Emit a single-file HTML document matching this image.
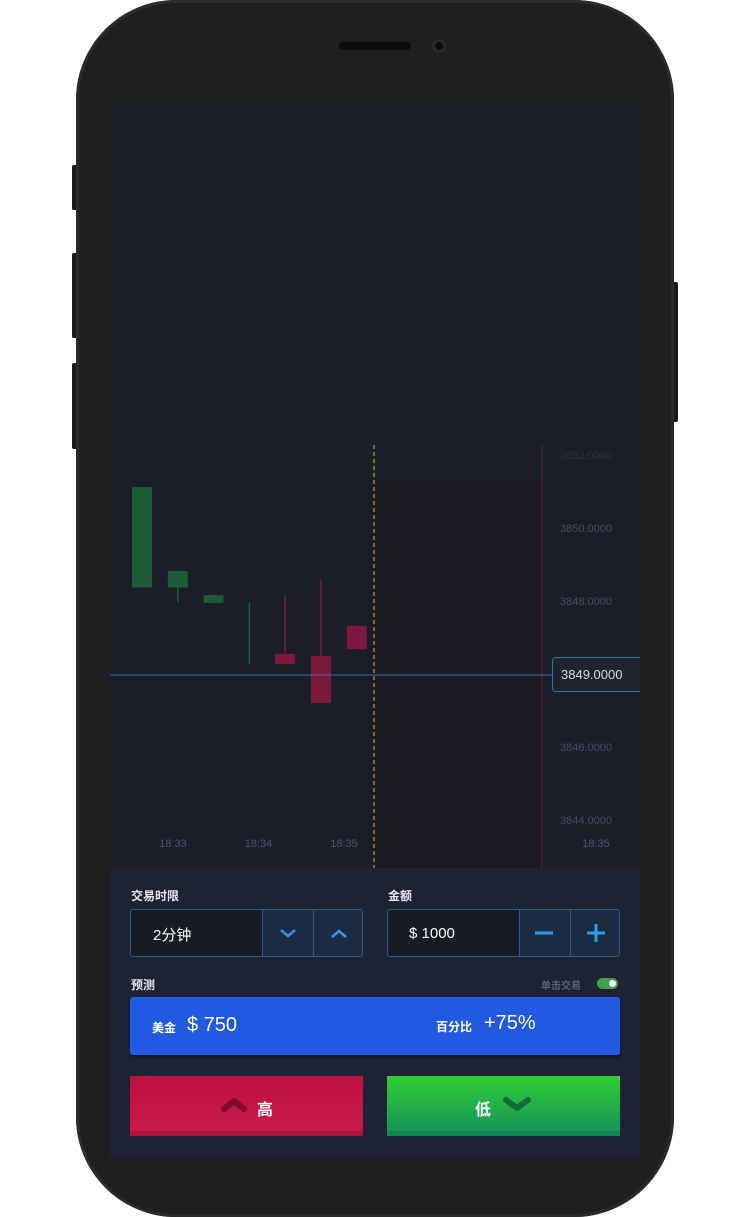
<!DOCTYPE html>
<html><head><meta charset="utf-8"><style>
body{margin:0;width:746px;height:1217px;background:#fff;position:relative;overflow:hidden;font-family:"Liberation Sans","Noto Sans CJK SC",sans-serif}
.abs{position:absolute}
.lbl{color:#e6e8ee;font-size:12px;font-weight:bold}
.box{position:absolute;border:1px solid #2a5a8c;border-radius:3px;background:#171b24;box-sizing:border-box;overflow:hidden}
.seg{position:absolute;top:0;bottom:0;width:50px;background:#1d2b42;border-left:1px solid #2a5a8c}
</style></head><body>
<div class="abs" style="left:72px;top:165px;width:6px;height:45px;background:#1a1a1a;border-radius:2px"></div>
<div class="abs" style="left:72px;top:253px;width:6px;height:85px;background:#1a1a1a;border-radius:2px"></div>
<div class="abs" style="left:72px;top:363px;width:6px;height:86px;background:#1a1a1a;border-radius:2px"></div>
<div class="abs" style="left:670px;top:282px;width:8px;height:140px;background:#1a1a1a;border-radius:2px"></div>
<div class="abs" style="left:76px;top:0;width:598px;height:1217px;background:#1f1f1f;border-radius:100px;box-shadow:inset 0 0 0 3px #2b2b2b"></div>
<div class="abs" style="left:339px;top:42px;width:72px;height:8px;background:#0d0d0d;border-radius:4px"></div>
<div class="abs" style="left:432px;top:39px;width:14px;height:14px;background:#0d0d0d;border-radius:50%;box-shadow:inset 0 0 0 3px #2a2a2a"></div>
<div class="abs" style="left:110px;top:100px;width:530px;height:1058px;background:#1a1e28;overflow:hidden">
<svg id="chart" width="530" height="768" style="position:absolute;left:0;top:0;font-family:'Liberation Sans',sans-serif"></svg>
<div class="abs" style="left:0;top:768px;width:530px;height:290px;background:#1d2333">
<div class="abs lbl" style="left:21px;top:19px">交易时限</div>
<div class="abs lbl" style="left:278px;top:19px">金额</div>
<div class="box" style="left:20px;top:41px;width:233px;height:48px">
<div class="abs" style="left:22px;top:14px;color:#fff;font-size:15px">2分钟</div>
<div class="seg" style="left:131px"><svg width="50" height="46"><path d="M18 20l7 6 7-6" stroke="#2a9cf0" stroke-width="2.5" fill="none"/></svg></div>
<div class="seg" style="left:182px"><svg width="50" height="46"><path d="M18 27l7-6 7 6" stroke="#2a9cf0" stroke-width="2.5" fill="none"/></svg></div>
</div>
<div class="box" style="left:277px;top:41px;width:233px;height:48px">
<div class="abs" style="left:21px;top:15px;color:#fff;font-size:15px">$ 1000</div>
<div class="seg" style="left:131px"><svg width="50" height="46"><path d="M15 23h18" stroke="#2a9cf0" stroke-width="3"/></svg></div>
<div class="seg" style="left:182px"><svg width="50" height="46"><path d="M16 23h18M25 14v18" stroke="#2a9cf0" stroke-width="3"/></svg></div>
</div>
<div class="abs lbl" style="left:21px;top:108px">预测</div>
<div class="abs" style="left:431px;top:109px;color:#5b6272;font-size:10px;font-weight:bold">单击交易</div>
<div class="abs" style="left:487px;top:110px;width:21px;height:11px;background:#3aa447;border-radius:6px"><div class="abs" style="right:2px;top:2px;width:7px;height:7px;background:#fff;border-radius:50%"></div></div>
<div class="abs" style="left:20px;top:129px;width:490px;height:58px;background:#2159e3;border-radius:3px;box-shadow:0 2px 3px rgba(0,0,0,.4)">
<div class="abs" style="left:22px;top:22px;color:#fff;font-size:12px;font-weight:bold">美金</div>
<div class="abs" style="left:57px;top:17px;color:#fff;font-size:20px">$ 750</div>
<div class="abs" style="left:306px;top:21px;color:#fff;font-size:12px;font-weight:bold">百分比</div>
<div class="abs" style="left:354px;top:15px;color:#fff;font-size:20px">+75%</div>
</div>
<div class="abs" style="left:20px;top:208px;width:233px;height:60px;background:linear-gradient(#bd1141,#c8194b);border-bottom:5px solid #a8173f;box-sizing:border-box">
<svg class="abs" style="left:90px;top:20px" width="28" height="16"><path d="M4 13l10-8 10 8" stroke="#7d0e2e" stroke-width="6" fill="none" stroke-linecap="round" stroke-linejoin="round"/></svg>
<div class="abs" style="left:127px;top:20px;color:#fff;font-size:16px;font-weight:bold">高</div>
</div>
<div class="abs" style="left:277px;top:208px;width:233px;height:60px;background:linear-gradient(#2fcf33,#17955a);border-bottom:5px solid #15834f;box-sizing:border-box">
<div class="abs" style="left:88px;top:20px;color:#fff;font-size:16px;font-weight:bold">低</div>
<svg class="abs" style="left:115px;top:20px" width="30" height="16"><path d="M4 4l11 8 11-8" stroke="#146b34" stroke-width="6" fill="none" stroke-linecap="round" stroke-linejoin="round"/></svg>
</div>
</div>
</div>
<script>
const opens=[3848.37,3848.37,3847.95,3846.30,3846.55,3846.49,3847.32];
const closes=[3851.12,3848.82,3848.16,3846.30,3846.27,3845.21,3846.68];
const highs=[3851.12,3848.82,3848.16,3847.95,3848.16,3848.58,3847.32];
const lows=[3848.37,3847.97,3847.95,3846.27,3846.27,3845.21,3846.68];
const priceTickLabels=["3852.0000","3850.0000","3848.0000","","3846.0000","3844.0000"];
const timeLabels=["18:33","18:34","18:35"];
const currentPrice=3849.0000;
const NS="http://www.w3.org/2000/svg";
const svg=document.getElementById('chart');
function yv(v){return 355+(3852-v)*36.5;}
function xi(i){return 32+i*35.8;}
function xt(i){return 63+i*85.5;}
function yt(i){return 355+i*73;}
function mk(t,a,p){const e=document.createElementNS(NS,t);for(const k in a)e.setAttribute(k,a[k]);(p||svg).appendChild(e);return e;}
for(let i=0;i<timeLabels.length;i++){const g=mk('line',{x1:xt(i),x2:xt(i),y1:340,y2:720,stroke:'#1c212b','stroke-width':1});

}
const z=mk('rect',{x:264,y:380,width:168,height:388,fill:'#1d1a24'});


const rl=mk('line',{x1:432,x2:432,y1:345,y2:768,stroke:'#6a1e2a','stroke-width':1});


for(let i=0;i<opens.length;i++){
 const up=closes[i]>=opens[i];const col=up?'#1d5c36':'#7c1a3e';const x=xi(i);
 const w=mk('line',{x1:x,x2:x,y1:yv(highs[i]),y2:yv(lows[i]),stroke:col,'stroke-width':1.5});
 
 
 const t=yv(Math.max(opens[i],closes[i])),b=yv(Math.min(opens[i],closes[i]));
 if(b-t>0.5){const r=mk('rect',{x:x-10,y:t,width:20,height:b-t,fill:col});
 
 }
}
const pl=mk('line',{x1:0,x2:442,y1:yt(3)+1,y2:yt(3)+1,stroke:'#2f6ea8','stroke-width':1});


const dl=mk('line',{x1:264,x2:264,y1:345,y2:768,stroke:'#b8921a','stroke-width':1.3,'stroke-dasharray':'4 3'});


for(let i=0;i<priceTickLabels.length;i++){if(!priceTickLabels[i])continue;
 const t=mk('text',{x:450,y:yt(i)+4,fill:i==0?'#2c313c':'#464c59','font-size':11});t.textContent=priceTickLabels[i];
 
 }
for(let i=0;i<timeLabels.length;i++){const t=mk('text',{x:xt(i),y:747,fill:'#4e5462','font-size':11,'text-anchor':'middle'});t.textContent=timeLabels[i];
 
 }
const tr=mk('text',{x:486,y:747,fill:'#4e5462','font-size':11,'text-anchor':'middle'});tr.textContent=timeLabels[2];


const pb=mk('rect',{x:442.5,y:yt(3)-16.5,width:90,height:34,rx:3,fill:'#1e232e',stroke:'#2f6ea8'});


const pt=mk('text',{x:451,y:yt(3)+5,fill:'#d8dbe2','font-size':13});pt.textContent=currentPrice.toFixed(4);


</script>
</body></html>
